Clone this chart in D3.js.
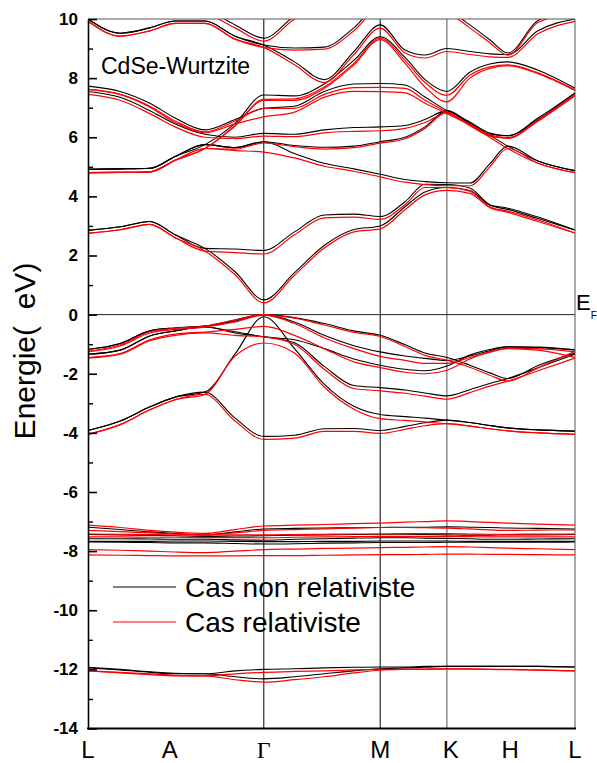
<!DOCTYPE html>
<html><head><meta charset="utf-8">
<script src="https://cdn.jsdelivr.net/npm/d3@7"></script>
<style>body{margin:0;background:#fff} svg{display:block}</style>
</head><body><svg id="chart" width="597" height="763"></svg>
<script>
// k-path sample positions (fraction of path length)
const kGrid = [0, 0.066, 0.127, 0.179, 0.240, 0.302, 0.361, 0.424, 0.485, 0.546, 0.600, 0.651, 0.692, 0.737, 0.784, 0.825, 0.862, 0.924, 1.0];
const kLabels = ["L", "A", "Γ", "M", "K", "H", "L"];
const kLabelPos = [0, 0.168, 0.361, 0.600, 0.745, 0.867, 1.0];
const kLines = [0.361, 0.600, 0.737];
const yMajor = [10, 8, 6, 4, 2, 0, -2, -4, -6, -8, -10, -12, -14];
const yMinor = [9, 7, 5, 3, 1, -1, -3, -5, -7, -9, -11, -13];

// Non-relativistic (black) bands, energies in eV at kGrid
const nrSemicore = [
  [-11.93,-12.0,-12.08,-12.13,-12.15,-12.05,-12.0,-11.98,-11.95,-11.93,-11.92,-11.92,-11.9,-11.9,-11.9,-11.9,-11.9,-11.9,-11.92],
  [-11.95,-12.02,-12.1,-12.15,-12.15,-12.25,-12.32,-12.25,-12.15,-12.05,-11.98,-11.95,-11.93,-11.9,-11.9,-11.9,-11.9,-11.9,-11.92]
];
const nrDbands = [
  [-7.19,-7.27,-7.35,-7.4,-7.45,-7.35,-7.25,-7.23,-7.22,-7.21,-7.2,-7.19,-7.19,-7.18,-7.19,-7.2,-7.22,-7.23,-7.25],
  [-7.44,-7.45,-7.47,-7.48,-7.5,-7.49,-7.48,-7.46,-7.45,-7.44,-7.43,-7.43,-7.44,-7.45,-7.46,-7.46,-7.45,-7.45,-7.44],
  [-7.58,-7.58,-7.59,-7.6,-7.6,-7.62,-7.63,-7.6,-7.58,-7.56,-7.55,-7.55,-7.56,-7.57,-7.58,-7.6,-7.6,-7.59,-7.58],
  [-7.67,-7.67,-7.67,-7.66,-7.66,-7.67,-7.68,-7.68,-7.67,-7.67,-7.66,-7.66,-7.66,-7.66,-7.67,-7.67,-7.67,-7.67,-7.67],
  [-7.69,-7.7,-7.71,-7.72,-7.72,-7.74,-7.76,-7.75,-7.73,-7.72,-7.71,-7.71,-7.71,-7.7,-7.7,-7.7,-7.7,-7.7,-7.69]
];
const nrValence = [
  [-1.18,-0.98,-0.55,-0.45,-0.39,-0.18,0.0,-0.1,-0.3,-0.55,-0.70,-1.02,-1.3,-1.45,-1.71,-1.97,-2.16,-1.72,-1.3],
  [-1.18,-0.98,-0.55,-0.45,-0.39,-0.22,0.0,-0.25,-0.7,-1.05,-1.26,-1.4,-1.48,-1.55,-1.4,-1.22,-1.09,-1.1,-1.2],
  [-1.34,-1.2,-0.72,-0.55,-0.42,-0.58,-0.75,-0.85,-1.15,-1.5,-1.71,-1.85,-1.9,-1.74,-1.37,-1.18,-1.09,-1.12,-1.18],
  [-1.34,-1.2,-0.72,-0.55,-0.42,-0.62,-0.75,-0.95,-1.75,-2.4,-2.47,-2.55,-2.65,-2.75,-2.54,-2.33,-2.16,-1.8,-1.34],
  [-3.92,-3.6,-3.12,-2.79,-2.62,-1.33,-0.07,-1.15,-2.35,-3.1,-3.38,-3.45,-3.5,-3.57,-3.65,-3.75,-3.83,-3.9,-3.94],
  [-3.92,-3.6,-3.12,-2.79,-2.62,-3.5,-4.12,-4.08,-3.86,-3.85,-3.92,-3.78,-3.66,-3.57,-3.65,-3.75,-3.83,-3.9,-3.94]
];
const nrConduction = [
  [2.85,2.97,3.15,2.7,2.24,1.45,0.5,1.42,2.34,2.88,3.0,3.65,4.15,4.3,4.2,3.7,3.56,3.25,2.86],
  [2.85,2.97,3.15,2.7,2.24,2.22,2.17,2.8,3.37,3.4,3.32,3.82,4.41,4.4,4.28,3.72,3.6,3.3,2.86],
  [4.92,4.93,4.95,5.35,5.75,5.65,5.85,5.45,5.12,4.93,4.75,4.57,4.5,4.46,4.45,5.1,5.7,5.2,4.87],
  [4.92,4.93,4.95,5.35,5.75,5.65,5.85,5.72,5.66,5.7,5.85,6.0,6.35,6.9,6.45,6.1,6.05,6.6,7.5],
  [7.55,7.35,6.9,6.45,6.1,6.0,6.13,6.1,6.25,6.33,6.35,6.4,6.6,6.9,6.48,6.07,5.7,5.2,4.87],
  [7.73,7.55,7.15,6.65,6.25,6.6,6.98,7.05,7.55,7.8,7.82,7.77,7.36,6.9,6.52,6.14,6.05,6.65,7.5],
  [4.92,4.93,4.95,5.35,5.75,6.47,7.43,7.4,7.8,8.6,9.4,8.7,7.95,7.55,8.2,8.48,8.55,8.27,7.66],
  [10.0,9.52,9.7,9.93,9.93,9.42,9.12,8.55,7.95,8.9,9.8,8.95,8.78,9.0,8.9,8.82,8.8,9.6,10.0],
  [10.0,9.52,9.7,9.93,9.93,9.42,9.12,9.02,9.05,9.7,10.5,10.5,10.4,10.3,9.8,9.3,8.85,9.95,10.3],
  [10.6,10.5,10.5,10.4,10.3,9.8,9.35,10.1,10.6,10.8,10.8,10.8,10.8,10.8,10.8,10.8,10.8,10.8,10.8]
];

// Relativistic (red) bands
const rSemicore = [
  [-12.05,-12.1,-12.15,-12.2,-12.22,-12.15,-12.1,-12.07,-12.05,-12.02,-12.0,-12.0,-12.0,-11.98,-11.98,-12.0,-12.0,-12.02,-12.05],
  [-12.05,-12.12,-12.18,-12.22,-12.22,-12.35,-12.43,-12.35,-12.25,-12.12,-12.03,-12.0,-11.99,-11.98,-11.99,-12.0,-12.01,-12.03,-12.05]
];
const rDbands = [
  [-7.12,-7.2,-7.3,-7.36,-7.4,-7.27,-7.15,-7.12,-7.1,-7.07,-7.05,-7.02,-7.0,-6.98,-7.0,-7.03,-7.05,-7.09,-7.12],
  [-7.3,-7.34,-7.38,-7.42,-7.45,-7.38,-7.3,-7.27,-7.25,-7.22,-7.2,-7.2,-7.21,-7.22,-7.25,-7.28,-7.3,-7.29,-7.28],
  [-7.42,-7.43,-7.44,-7.45,-7.45,-7.45,-7.45,-7.44,-7.43,-7.42,-7.42,-7.41,-7.41,-7.41,-7.42,-7.43,-7.43,-7.42,-7.42],
  [-7.52,-7.52,-7.53,-7.53,-7.54,-7.54,-7.55,-7.53,-7.52,-7.51,-7.5,-7.5,-7.5,-7.5,-7.51,-7.52,-7.52,-7.52,-7.52],
  [-7.95,-7.97,-8.0,-8.03,-8.05,-8.0,-7.95,-7.93,-7.91,-7.9,-7.88,-7.87,-7.86,-7.85,-7.86,-7.88,-7.9,-7.92,-7.95],
  [-8.13,-8.14,-8.15,-8.16,-8.16,-8.16,-8.15,-8.15,-8.14,-8.13,-8.12,-8.12,-8.11,-8.1,-8.1,-8.11,-8.11,-8.12,-8.13]
];
const rValence = [
  [-1.24,-1.02,-0.58,-0.46,-0.39,-0.18,0.0,-0.12,-0.35,-0.6,-0.74,-1.08,-1.38,-1.54,-1.78,-2.05,-2.25,-1.8,-1.24],
  [-1.26,-1.06,-0.62,-0.5,-0.42,-0.25,-0.02,-0.3,-0.78,-1.15,-1.41,-1.55,-1.65,-1.65,-1.45,-1.28,-1.13,-1.15,-1.26],
  [-1.45,-1.32,-0.85,-0.66,-0.59,-0.5,-0.4,-0.7,-1.15,-1.6,-1.79,-1.95,-2.0,-1.88,-1.5,-1.25,-1.15,-1.2,-1.45],
  [-1.47,-1.34,-0.88,-0.7,-0.62,-0.7,-0.75,-1.0,-1.85,-2.5,-2.58,-2.66,-2.76,-2.86,-2.64,-2.42,-2.25,-1.9,-1.47],
  [-4.05,-3.72,-3.22,-2.88,-2.7,-1.4,-0.96,-1.3,-2.45,-3.2,-3.52,-3.58,-3.63,-3.69,-3.77,-3.86,-3.93,-4.0,-4.05],
  [-4.05,-3.72,-3.22,-2.88,-2.7,-3.6,-4.22,-4.18,-3.95,-3.95,-4.02,-3.88,-3.76,-3.69,-3.77,-3.86,-3.93,-4.0,-4.05]
];
const rConduction = [
  [2.75,2.87,3.05,2.6,2.15,1.35,0.4,1.33,2.25,2.8,2.9,3.55,4.05,4.2,4.1,3.62,3.46,3.15,2.76],
  [2.75,2.87,3.05,2.6,2.15,2.1,2.05,2.7,3.27,3.3,3.22,3.72,4.3,4.3,4.18,3.64,3.5,3.2,2.76],
  [4.8,4.81,4.83,5.22,5.62,5.55,5.5,5.3,5.02,4.85,4.66,4.48,4.4,4.36,4.36,5.0,5.62,5.12,4.8],
  [4.8,4.81,4.83,5.22,5.62,5.6,5.81,5.68,5.6,5.65,5.8,5.95,6.3,6.85,6.4,6.05,5.98,6.55,7.45],
  [7.45,7.25,6.8,6.35,6.0,5.95,6.04,6.02,6.15,6.2,6.22,6.3,6.5,6.82,6.4,6.0,5.62,5.12,4.8],
  [7.62,7.45,7.05,6.55,6.18,6.55,6.98,6.98,7.45,7.68,7.69,7.65,7.25,6.85,6.45,6.08,5.98,6.58,7.45],
  [7.62,7.45,7.02,6.5,6.15,6.45,6.69,6.85,7.35,7.55,7.54,7.5,7.15,6.8,6.42,6.05,5.96,6.55,7.4],
  [4.8,4.81,4.83,5.22,5.62,6.4,7.28,7.3,7.7,8.5,9.35,8.6,7.85,7.42,8.1,8.38,8.45,8.18,7.6],
  [4.8,4.81,4.83,5.22,5.62,6.38,7.25,7.25,7.65,8.45,9.3,8.5,7.7,7.2,8.0,8.33,8.42,8.15,7.58],
  [9.92,9.42,9.6,9.85,9.85,9.32,9.04,8.45,7.85,8.8,9.69,8.85,8.68,8.9,8.8,8.72,8.7,9.5,9.92],
  [9.92,9.42,9.6,9.85,9.85,9.32,9.04,8.95,8.98,9.6,10.4,10.4,10.3,10.2,9.7,9.2,8.78,9.88,10.2],
  [10.5,10.45,10.45,10.35,10.2,9.7,9.25,10.0,10.5,10.7,10.7,10.7,10.7,10.7,10.7,10.7,10.7,10.7,10.7]
];

const legendLabels = ["Cas non relativiste", "Cas relativiste"];

const svg = d3.select("#chart");
const x = d3.scaleLinear().domain([0, 1]).range([88, 575]);
const y = d3.scaleLinear().domain([-14, 10]).range([728.5, 19]);

svg.append("defs").append("clipPath").attr("id", "clip")
  .append("rect").attr("x", 88).attr("y", 19).attr("width", 487).attr("height", 709.5);

const plot = svg.append("g").attr("clip-path", "url(#clip)");

// vertical high-symmetry lines
plot.selectAll("line.ksym").data(kLines).join("line")
  .attr("x1", d => x(d)).attr("x2", d => x(d))
  .attr("y1", y(10)).attr("y2", y(-14))
  .attr("stroke", (d, i) => i === 2 ? "#555" : "#000").attr("stroke-width", 1);
// Fermi level
plot.append("line").attr("x1", x(0)).attr("x2", x(1)).attr("y1", y(0)).attr("y2", y(0))
  .attr("stroke", "#222").attr("stroke-width", 1);

const line = d3.line().x((d, i) => x(kGrid[i])).y(d => y(d)).curve(d3.curveMonotoneX);

const black = [...nrSemicore, ...nrDbands, ...nrValence, ...nrConduction];
const red = [...rSemicore, ...rDbands, ...rValence, ...rConduction];

plot.selectAll("path.nr").data(black).join("path").attr("class", "nr")
  .attr("d", line).attr("fill", "none").attr("stroke", "#000").attr("stroke-width", 1.1);
plot.selectAll("path.rel").data(red).join("path").attr("class", "rel")
  .attr("d", line).attr("fill", "none").attr("stroke", "#ff0000").attr("stroke-width", 1.2);

// frame top/right
svg.append("line").attr("x1", 88).attr("x2", 575).attr("y1", 19).attr("y2", 19).attr("stroke", "#555").attr("stroke-width", 1);
svg.append("line").attr("x1", 575).attr("x2", 575).attr("y1", 19).attr("y2", 728.5).attr("stroke", "#555").attr("stroke-width", 1);

// left axis
const yAxis = svg.append("g").attr("transform", "translate(88,0)")
  .call(d3.axisLeft(y).tickValues(yMajor).tickSizeInner(-9).tickSizeOuter(0).tickPadding(10).tickFormat(d => String(d)));
yAxis.select(".domain").attr("stroke", "#000").attr("stroke-width", 1.6);
yAxis.selectAll(".tick line").attr("stroke", "#000").attr("stroke-width", 1.6);
yAxis.selectAll("text").attr("font-family", "'Liberation Sans', Arial, sans-serif")
  .attr("font-size", 17).attr("font-weight", "bold").attr("fill", "#000");
const yMin = svg.append("g").attr("transform", "translate(88,0)")
  .call(d3.axisLeft(y).tickValues(yMinor).tickSizeInner(-5).tickSizeOuter(0).tickFormat(""));
yMin.select(".domain").remove();
yMin.selectAll(".tick line").attr("stroke", "#000").attr("stroke-width", 1.4);

// bottom axis line
svg.append("line").attr("x1", 87).attr("x2", 576).attr("y1", 728.5).attr("y2", 728.5).attr("stroke", "#000").attr("stroke-width", 1.8);

// k labels
svg.selectAll("text.klab").data(kLabels).join("text").attr("class", "klab")
  .attr("x", (d, i) => x(kLabelPos[i])).attr("y", 758)
  .attr("text-anchor", "middle")
  .attr("font-family", d => d === "Γ" ? "'Liberation Serif', 'Times New Roman', serif" : "'Liberation Sans', Arial, sans-serif")
  .attr("font-size", 24).attr("fill", "#000").text(d => d);

// y title
svg.append("text").attr("transform", "translate(35,351) rotate(-90)")
  .attr("text-anchor", "middle").attr("font-family", "'Liberation Sans', Arial, sans-serif")
  .attr("font-size", 30).attr("fill", "#000").attr("xml:space", "preserve")
  .style("white-space", "pre").text("Energie(  eV)");

// E_F
const ef = svg.append("text").attr("x", 576).attr("y", 310).attr("font-family", "'Liberation Sans', Arial, sans-serif").attr("fill", "#000");
ef.append("tspan").attr("font-size", 22).text("E");
ef.append("tspan").attr("font-size", 10).attr("dy", 9).text("F");

// title
svg.append("text").attr("x", 101).attr("y", 74).attr("font-family", "'Liberation Sans', Arial, sans-serif")
  .attr("font-size", 23).attr("fill", "#000").text("CdSe-Wurtzite");

// legend
const legColors = ["#000", "#ff0000"];
const leg = svg.append("g");
legendLabels.forEach((t, i) => {
  const yy = 587 + i * 35;
  leg.append("line").attr("x1", 113).attr("x2", 176).attr("y1", yy).attr("y2", yy)
    .attr("stroke", legColors[i]).attr("stroke-width", 1.2);
  leg.append("text").attr("x", 185).attr("y", yy + 10).attr("font-family", "'Liberation Sans', Arial, sans-serif")
    .attr("font-size", 28).attr("fill", "#000").text(t);
});
</script></body></html>
